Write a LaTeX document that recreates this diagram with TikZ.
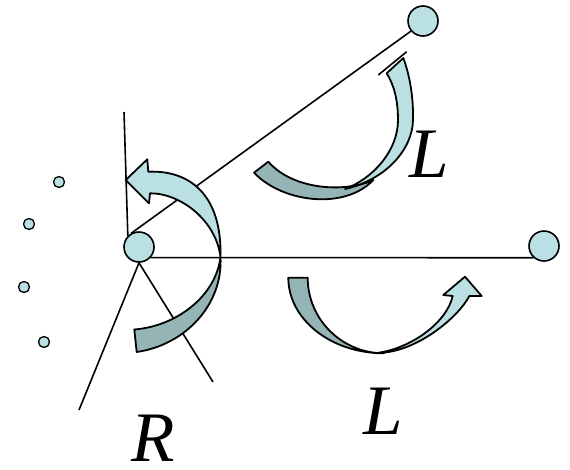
\documentclass[tikz,border=0pt]{standalone}
\usepackage{fontspec}
\setmainfont{Liberation Serif}
\definecolor{lightb}{RGB}{187,224,228}
\definecolor{darkb}{RGB}{149,180,181}
\begin{document}
\begin{tikzpicture}[x=1pt,y=-1pt,
  ln/.style={line width=1.6pt},
  ball/.style={circle,draw,line width=1.6pt,fill=lightb,inner sep=0pt,minimum size=30pt},
  dot/.style={circle,draw,line width=1.3pt,fill=lightb,inner sep=0pt,minimum size=11pt},
  front/.style={fill=lightb,draw,line width=1.8pt,line join=round},
  back/.style={fill=darkb,draw,line width=1.8pt,line join=round},
  lab/.style={font=\fontsize{71}{71}\selectfont\itshape,inner sep=0pt}]
\useasboundingbox (0,0) rectangle (570,469);
% balls
\node[ball] (c) at (139,247) {};
\node[ball] (tr) at (423,21) {};
\node[ball] (rb) at (544,246) {};
\node[dot] (d1) at (59,182) {};
\node[dot] (d2) at (29,224) {};
\node[dot] (d3) at (24,287) {};
\node[dot] (d4) at (44,342) {};
\coordinate (vt) at (124,112);
\coordinate (bl) at (79,410);
\coordinate (br) at (213,382);
\coordinate (t1) at (378.3,75);
\coordinate (t2) at (406.7,51.7);
% lines
\draw[ln] (c.120) -- (tr.-140);
\draw[ln] (c.-42) -- (rb.-132);
\draw[ln] (vt) -- (c.135);
\draw[ln] (c.-90) -- (bl);
\draw[ln] (c.-90) -- (br);
% arrow 1 (around R)
\path[back] (220.5,257) .. controls (223,305) and (185,345) .. (136.7,352)
  -- (134.3,329.5) .. controls (178,326) and (216,295) .. (220.5,257) -- cycle;
\path[front] (125.7,180) -- (147.3,159.3) -- (148.3,171.7)
  .. controls (190,170) and (222,195) .. (220.5,257)
  .. controls (216,220) and (180,193) .. (150,193.3)
  -- (149,203.3) -- cycle;
% arrow 2 (top L)
\path[back] (254,172.7) .. controls (283,203) and (345,210) .. (373.3,180)
  .. controls (345,193) and (293,190) .. (268.3,161.7) -- cycle;
\path[front] (403.3,58) .. controls (410,76) and (413.5,98) .. (413,120)
  .. controls (412.5,150) and (385,180) .. (345,189)
  .. controls (374,178) and (398,150) .. (398,120)
  .. controls (398,100) and (394,85) .. (386.7,73.3) -- cycle;
\draw[ln] (t1) -- (t2);
% arrow 3 (bottom L)
\path[back] (288.3,277.7) .. controls (288.3,319.5) and (331.1,353.3) .. (384,353.3)
  .. controls (342,353.3) and (307.7,319.5) .. (307.7,277.7) -- cycle;
\path[front] (378,352.8) .. controls (415,353) and (458,318) .. (469.3,296)
  -- (481.7,296) -- (465,276.7) -- (443.3,295) -- (452.7,296)
  .. controls (447,322) and (412,348) .. (378,352.8) -- cycle;
% labels
\node[lab] (R) at (153,438) {R};
\node[lab] (L1) at (383,411) {L};
\node[lab] (L2) at (429,154) {L};
\end{tikzpicture}
\end{document}
